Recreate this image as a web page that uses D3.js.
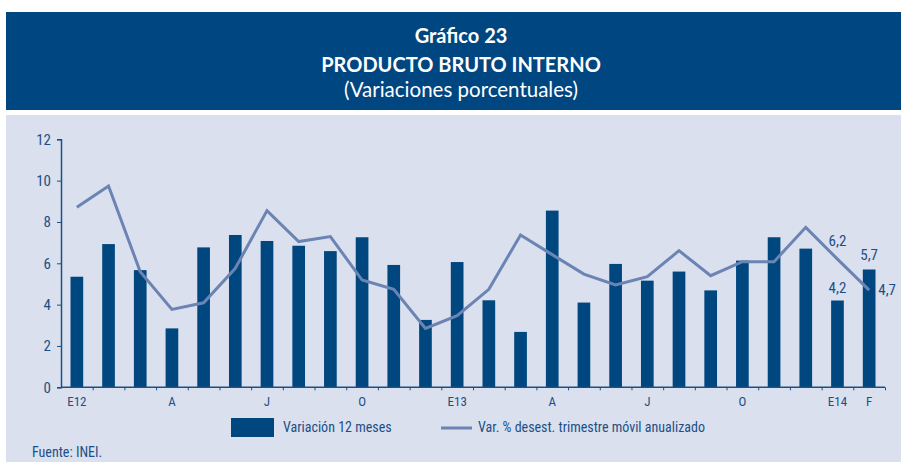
<!DOCTYPE html>
<html lang="es">
<head>
<meta charset="UTF-8">
<title>Gráfico 23 - Producto Bruto Interno</title>
<style>
    body { margin: 0; background: #fff; }
    svg { display: block; }
    .lbl { font-family: Roboto, sans-serif; font-stretch: condensed; fill: #1d4f86; }
    .axis path, .axis line { stroke: #1d4f86; }
</style>
</head>
<body>
<script src="https://d3js.org/d3.v7.min.js"></script>
<script>
    // months Jan 2012 - Feb 2014
    const months = ["E12","F","M","A","M","J","J","A","S","O","N","D",
                    "E13","F","M","A","M","J","J","A","S","O","N","D","E14","F"];
    const tickLabels = ["E12","","","A","","","J","","","O","","",
                        "E13","","","A","","","J","","","O","","","E14","F"];
    // Variación 12 meses
    const var12 = [5.35, 6.93, 5.67, 2.85, 6.77, 7.37, 7.08, 6.85, 6.59, 7.26, 5.92, 3.26,
                   6.06, 4.21, 2.68, 8.55, 4.10, 5.97, 5.16, 5.60, 4.69, 6.13, 7.26, 6.71, 4.2, 5.7];
    // Var. % desest. trimestre móvil anualizado
    const varDesest = [8.71, 9.74, 5.59, 3.77, 4.09, 5.76, 8.55, 7.05, 7.29, 5.19, 4.74, 2.85,
                       3.47, 4.74, 7.37, 6.42, 5.48, 4.95, 5.35, 6.61, 5.40, 6.08, 6.08, 7.74, 6.2, 4.7];
    const yTicks = [0, 2, 4, 6, 8, 10, 12];

    const W = 901, H = 462;
    const barColor = "#00467f", lineColor = "#6b84b3";

    const svg = d3.select("body").append("svg")
        .attr("width", W).attr("height", H);

    // title block
    svg.append("rect").attr("x", 6).attr("y", 12).attr("width", W - 6).attr("height", 98)
        .attr("fill", "#004680");
    const title = svg.append("g").attr("font-family", "Lato, 'Open Sans', sans-serif")
        .attr("fill", "#fff").attr("text-anchor", "middle");
    title.append("text").attr("x", 461).attr("y", 43).attr("font-size", 20).attr("font-weight", "bold")
        .text("Gráfico 23");
    title.append("text").attr("x", 461).attr("y", 72).attr("font-size", 20).attr("font-weight", "bold")
        .text("PRODUCTO BRUTO INTERNO");
    title.append("text").attr("x", 461).attr("y", 97).attr("font-size", 20.5)
        .text("(Variaciones porcentuales)");

    // panel
    svg.append("rect").attr("x", 6).attr("y", 115).attr("width", W - 6).attr("height", H - 115)
        .attr("fill", "#dae0ee");

    const x0 = 61, x1 = 885, yTop = 139.3, yBot = 387.3;

    const x = d3.scaleBand().domain(d3.range(months.length))
        .range([x0, x1]).paddingInner(0.6).paddingOuter(0.3);
    const xLin = d3.scaleLinear().domain([0, months.length]).range([x0, x1]);
    const y = d3.scaleLinear().domain([0, 12]).range([yBot, yTop]);

    // bars
    svg.append("g").selectAll("rect").data(var12).join("rect")
        .attr("x", (d, i) => x(i))
        .attr("y", d => y(d))
        .attr("width", x.bandwidth())
        .attr("height", d => y(0) - y(d))
        .attr("fill", barColor);

    // line
    const line = d3.line()
        .x((d, i) => x(i) + x.bandwidth() / 2)
        .y(d => y(d));
    svg.append("path").datum(varDesest)
        .attr("d", line)
        .attr("fill", "none")
        .attr("stroke", lineColor)
        .attr("stroke-width", 3)
        .attr("stroke-linejoin", "miter");

    // y axis
    const yAxis = svg.append("g").attr("class", "axis")
        .attr("transform", `translate(${x0},0)`)
        .call(d3.axisLeft(y).tickValues(yTicks).tickSize(4).tickPadding(6));
    yAxis.selectAll("text").attr("class", "lbl").attr("font-size", 15);
    yAxis.select(".domain").attr("stroke-width", 1.5);

    // x axis: ticks at month boundaries
    const xAxis = svg.append("g").attr("class", "axis")
        .attr("transform", `translate(0,${yBot})`)
        .call(d3.axisBottom(xLin).tickValues(d3.range(1, months.length + 1)).tickSize(3).tickFormat(""));
    xAxis.select(".domain").attr("stroke-width", 1.5).attr("d", `M${x0},0H${x1}`);

    // x labels at band centres
    const xLab = svg.append("g").attr("class", "axis")
        .attr("transform", `translate(0,${yBot})`)
        .call(d3.axisBottom(x).tickSize(0).tickPadding(9).tickFormat(i => tickLabels[i]));
    xLab.select(".domain").remove();
    xLab.selectAll("text").attr("class", "lbl").attr("font-size", 13);

    // data labels
    const n = months.length;
    const cx = i => x(i) + x.bandwidth() / 2;
    const fmt = v => d3.format(".1f")(v).replace(".", ",");
    const dl = svg.append("g").attr("class", "lbl").attr("font-size", 15).attr("text-anchor", "middle");
    dl.append("text").attr("x", cx(n - 2)).attr("y", y(varDesest[n - 2]) - 13).text(fmt(varDesest[n - 2]));
    dl.append("text").attr("x", cx(n - 2)).attr("y", y(var12[n - 2]) - 8).text(fmt(var12[n - 2]));
    dl.append("text").attr("x", cx(n - 1)).attr("y", y(var12[n - 1]) - 10).text(fmt(var12[n - 1]));
    dl.append("text").attr("x", cx(n - 1) + 18).attr("y", y(varDesest[n - 1]) + 5).text(fmt(varDesest[n - 1]));

    // legend
    const lg = svg.append("g").attr("class", "lbl").attr("font-size", 14);
    lg.append("rect").attr("x", 231).attr("y", 418).attr("width", 43).attr("height", 19).attr("fill", barColor);
    lg.append("text").attr("x", 283).attr("y", 432).text("Variación 12 meses");
    lg.append("line").attr("x1", 441).attr("x2", 472).attr("y1", 428).attr("y2", 428)
        .attr("stroke", lineColor).attr("stroke-width", 3);
    lg.append("text").attr("x", 478).attr("y", 432).text("Var. % desest. trimestre móvil anualizado");

    svg.append("text").attr("class", "lbl").attr("font-size", 14)
        .attr("x", 32).attr("y", 457).text("Fuente: INEI.");
</script>
</body>
</html>
